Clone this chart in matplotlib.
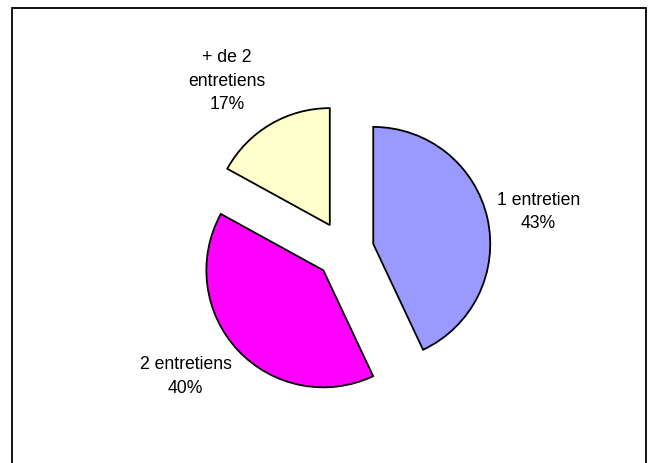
import matplotlib
matplotlib.use("Agg")
from matplotlib import pyplot as plt
from matplotlib.patches import Rectangle

names = ['1 entretien', '2 entretiens', '+ de 2\nentretiens']
values = [43, 40, 17]
colors = ['#9999FF', '#FF00FF', '#FFFFCC']

# label anchors, in pie radii from the centre
label_pos = [(1.656, 0.327), (-1.361, -1.079), (-1.006, 1.443)]

W, H = 653, 463
fig = plt.figure(figsize=(W / 100, H / 100), dpi=100)
fig.patch.set_facecolor('white')

# square axes, pie radius 1 -> 117 px
R = 117
L = 1.9
side = 2 * L * R
cx, cy = 344.7, H - 250.3
ax = fig.add_axes([(cx - side / 2) / W, (cy - side / 2) / H, side / W, side / H])

labels = ['{}\n{}%'.format(n, v) for n, v in zip(names, values)]
wedges, texts = ax.pie(values, labels=labels, colors=colors, startangle=90,
                       counterclock=False, explode=[0.25] * 3, labeldistance=1.47,
                       wedgeprops=dict(edgecolor='black', linewidth=1.3),
                       textprops=dict(fontsize=12.7, family='Liberation Sans',
                                      ha='center', va='center', linespacing=1.5))
for t, pos in zip(texts, label_pos):
    t.set_position(pos)

ax.set_xlim(-L, L)
ax.set_ylim(-L, L)
ax.set_axis_off()

# outer frame
fig.patches.append(Rectangle((12 / W, -0.02), (646 - 12) / W, (H - 8) / H + 0.02,
                             transform=fig.transFigure, fill=False,
                             edgecolor='black', linewidth=1.3))

plt.savefig('out.png', dpi=100, facecolor='white')
